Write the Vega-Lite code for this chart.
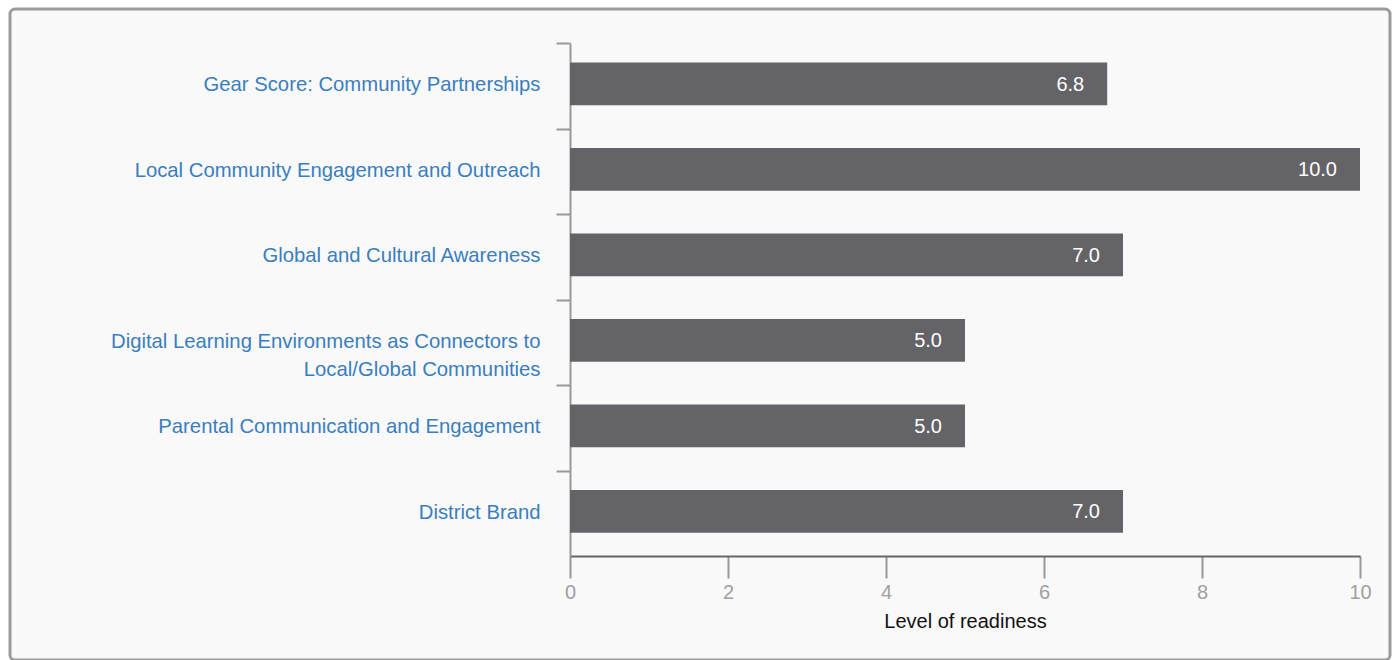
{
  "$schema": "https://vega.github.io/schema/vega-lite/v6.json",
  "autosize": "none",
  "width": 1380,
  "height": 651,
  "padding": {"left": 10, "top": 9, "right": 5, "bottom": 0},
  "background": "#ffffff",
  "config": {
    "view": {"stroke": "#9b9b9b", "strokeWidth": 3, "cornerRadius": 5, "fill": "#f9f9f9"},
    "font": "Liberation Sans"
  },
  "data": {
    "values": [
      {"category": "Gear Score: Community Partnerships", "score": 6.8},
      {"category": "Local Community Engagement and Outreach", "score": 10.0},
      {"category": "Global and Cultural Awareness", "score": 7.0},
      {"category": "Digital Learning Environments as Connectors to Local/Global Communities", "score": 5.0},
      {"category": "Parental Communication and Engagement", "score": 5.0},
      {"category": "District Brand", "score": 7.0}
    ]
  },
  "encoding": {
    "y": {
      "field": "category",
      "type": "nominal",
      "sort": null,
      "scale": {"range": [34, 547], "paddingInner": 0, "paddingOuter": 0},
      "axis": {
        "title": null,
        "offset": -560,
        "domainColor": "#999999",
        "domainWidth": 2,
        "tickColor": "#999999",
        "tickWidth": 2,
        "tickSize": 14,
        "tickBand": "extent",
        "tickOpacity": {"condition": {"test": "datum.index == 1", "value": 0}, "value": 1},
        "labelColor": "#3a7ebf",
        "labelFontSize": 20.3,
        "labelPadding": 16,
        "labelOffset": -1,
        "labelLimit": 700,
        "labelLineHeight": 28,
        "labelExpr": "datum.value == 'Digital Learning Environments as Connectors to Local/Global Communities' ? ['Digital Learning Environments as Connectors to', 'Local/Global Communities'] : datum.value"
      }
    },
    "x": {
      "field": "score",
      "type": "quantitative",
      "scale": {"domain": [0, 10], "range": [560, 1350]},
      "axis": {
        "title": "Level of readiness",
        "offset": -104,
        "values": [0, 2, 4, 6, 8, 10],
        "grid": false,
        "labelFlush": false,
        "domainColor": "#666666",
        "domainWidth": 2,
        "tickColor": "#999999",
        "tickWidth": 2,
        "tickSize": 22,
        "labelColor": "#a0a0a0",
        "labelFontSize": 20,
        "labelPadding": 4,
        "titleColor": "#111111",
        "titleFontSize": 20,
        "titleFontWeight": "normal",
        "titlePadding": 9
      }
    }
  },
  "layer": [
    {"mark": {"type": "bar", "color": "#646368", "height": {"band": 0.5}, "yOffset": -2}},
    {
      "mark": {"type": "text", "align": "right", "baseline": "middle", "dx": -23, "yOffset": -1, "color": "#ffffff", "fontSize": 20},
      "encoding": {"text": {"field": "score", "type": "quantitative", "format": ".1f"}}
    }
  ]
}
